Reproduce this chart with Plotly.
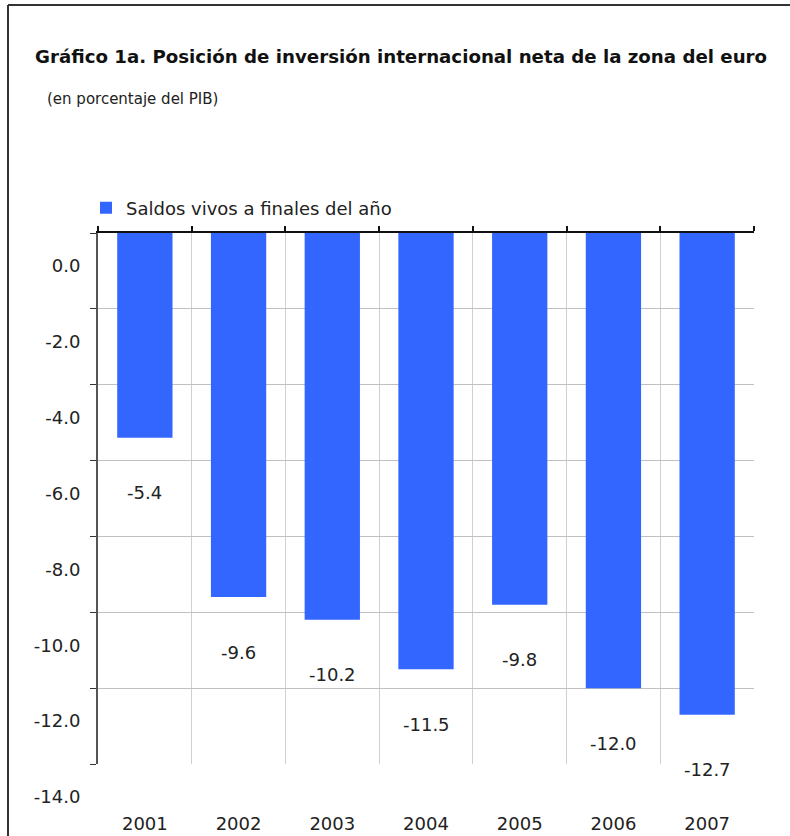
import plotly.graph_objects as go

years = ["2001", "2002", "2003", "2004", "2005", "2006", "2007"]
values = [-5.4, -9.6, -10.2, -11.5, -9.8, -12.0, -12.7]
y_ticks = [0, -2, -4, -6, -8, -10, -12, -14]
series_name = "Saldos vivos a finales del año"
title_text = "Gráfico 1a. Posición de inversión internacional neta de la zona del euro"
subtitle_text = "(en porcentaje del PIB)"

W, H = 790, 836
L, R, T, B = 98, 36, 233, 72
pw, ph = W - L - R, H - T - B

def px_x(x):
    return (x - L) / pw

def px_y(y):
    return (H - B - y) / ph

NUM_FONT = "DejaVu Sans"
TXT = "#222222"

fig = go.Figure()
fig.add_trace(go.Bar(
    x=years, y=values, name=series_name,
    marker=dict(color="#3366FF", line=dict(width=0)),
    showlegend=True, hoverinfo="skip",
))
# helper trace for the top axis (ticks at boundaries)
fig.add_trace(go.Scatter(
    x=years, y=values, xaxis="x2", mode="markers",
    marker=dict(opacity=0), showlegend=False, hoverinfo="skip",
))

annotations = []
for i, v in enumerate(values):
    annotations.append(dict(
        x=i, y=v, xref="x", yref="y", text=f"{v:.1f}", showarrow=False,
        yshift=-55, yanchor="middle",
        font=dict(family=NUM_FONT, size=18, color=TXT),
    ))
annotations.append(dict(
    x=px_x(45), y=px_y(99), xref="paper", yref="paper", text=subtitle_text,
    showarrow=False, xanchor="left", yanchor="middle",
    font=dict(family=NUM_FONT, size=15, color=TXT),
))

shapes = [
    dict(type="line", xref="paper", yref="paper",
         x0=px_x(8), x1=px_x(792), y0=px_y(5), y1=px_y(5),
         line=dict(color="#333333", width=2)),
    dict(type="line", xref="paper", yref="paper",
         x0=px_x(8), x1=px_x(8), y0=px_y(5), y1=px_y(840),
         line=dict(color="#333333", width=2)),
]

fig.update_layout(
    width=W, height=H,
    margin=dict(l=L, r=R, t=T, b=B, autoexpand=False),
    paper_bgcolor="white", plot_bgcolor="white",
    bargap=0.41,
    title=dict(text=f"<b>{title_text}</b>", xref="container", yref="container",
               x=35 / W, y=1 - 57 / H, xanchor="left", yanchor="middle",
               font=dict(family="DejaVu Sans", size=18.2, color="#111111")),
    legend=dict(x=px_x(86), y=px_y(208), xanchor="left", yanchor="middle",
                bgcolor="rgba(0,0,0,0)", font=dict(family=NUM_FONT, size=18, color=TXT),
                itemwidth=30),
    xaxis=dict(
        type="category", categoryorder="array", categoryarray=years,
        range=[-0.5, 6.5], tickson="boundaries", showgrid=True,
        gridcolor="#d0d0d0", gridwidth=1, ticks="", showline=False,
        zeroline=False, automargin=False,
        tickfont=dict(family=NUM_FONT, size=18, color=TXT),
        ticklabelstandoff=47,
    ),
    xaxis2=dict(
        type="category", categoryorder="array", categoryarray=years,
        overlaying="x", side="top", anchor="y", range=[-0.5, 6.5],
        tickson="boundaries", ticks="outside", ticklen=5, tickwidth=2,
        tickcolor="#111111", showline=True, linecolor="#111111", linewidth=2,
        showticklabels=False, showgrid=False, zeroline=False, automargin=False,
    ),
    yaxis=dict(
        range=[-14, 0], tickvals=y_ticks, ticktext=[f"{t:.1f}" for t in y_ticks],
        showgrid=True, gridcolor="#c0c0c0", gridwidth=1,
        zeroline=False, showline=True, linecolor="#555555", linewidth=2,
        ticks="outside", ticklen=6, tickcolor="#333333",
        tickfont=dict(family=NUM_FONT, size=18, color=TXT),
        ticklabelshift=33, ticklabelstandoff=6, automargin=False,
    ),
    annotations=annotations,
    shapes=shapes,
)

fig.write_html("out.html")
